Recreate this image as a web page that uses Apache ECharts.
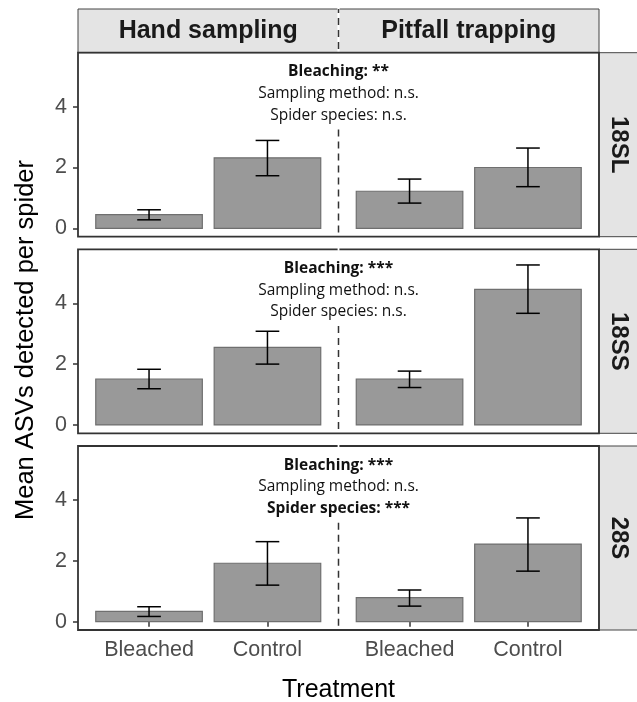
<!DOCTYPE html>
<html><head><meta charset="utf-8">
<script src="https://cdn.jsdelivr.net/npm/echarts@6/dist/echarts.min.js"></script>
<style>html,body{margin:0;padding:0;background:#fff}#c{width:637px;height:702px}</style>
</head><body><div id="c"></div>
<script>
// ---- data ----
const treatments = ['Bleached', 'Control'];
const methods = ['Hand sampling', 'Pitfall trapping'];
const markers = ['18SL', '18SS', '28S'];
const yTicks = [0, 2, 4];
// order: Hand-Bleached, Hand-Control, Pitfall-Bleached, Pitfall-Control
const mean18SL  = [0.45, 2.32, 1.22, 2.00];
const lower18SL = [0.28, 1.73, 0.83, 1.37];
const upper18SL = [0.61, 2.89, 1.62, 2.64];
const mean18SS  = [1.51, 2.55, 1.51, 4.46];
const lower18SS = [1.19, 2.00, 1.23, 3.67];
const upper18SS = [1.83, 3.08, 1.77, 5.26];
const mean28S   = [0.34, 1.92, 0.79, 2.55];
const lower28S  = [0.17, 1.20, 0.51, 1.66];
const upper28S  = [0.49, 2.63, 1.04, 3.41];
const annot18SL = [['Bleaching: **', true], ['Sampling method: n.s.', false], ['Spider species: n.s.', false]];
const annot18SS = [['Bleaching: ***', true], ['Sampling method: n.s.', false], ['Spider species: n.s.', false]];
const annot28S  = [['Bleaching: ***', true], ['Sampling method: n.s.', false], ['Spider species: ***', true]];

const rows = [
  {mean: mean18SL, lo: lower18SL, hi: upper18SL, ann: annot18SL},
  {mean: mean18SS, lo: lower18SS, hi: upper18SS, ann: annot18SS},
  {mean: mean28S,  lo: lower28S,  hi: upper28S,  ann: annot28S}
];

// ---- layout ----
const FONT = '"Liberation Sans", Arial, sans-serif';
const ANN_FONT = '"Open Sans", "Noto Sans", sans-serif';
const panelTop = [52.7, 249.3, 446];
const panelH = 184;
const colLeft = [78, 338.5];
const colW = 260.5;
const YMIN = -0.275, YMAX = 5.775;
const MID = 338.5;

const chart = echarts.init(document.getElementById('c'), null, {renderer: 'canvas'});
const grid = [], xAxis = [], yAxis = [], series = [];

rows.forEach((row, r) => {
  [0, 1].forEach(c => {
    const idx = r * 2 + c;
    grid.push({left: colLeft[c], top: panelTop[r], width: colW, height: panelH});
    xAxis.push({
      gridIndex: idx, type: 'value', min: 0.4, max: 2.6,
      axisLine: {show: false}, splitLine: {show: false},
      axisTick: {show: r === 2, customValues: [1, 2], length: 5, lineStyle: {color: '#333', width: 1.5}},
      axisLabel: {show: r === 2, customValues: [1, 2], formatter: v => treatments[Math.round(v) - 1],
        margin: 9, fontSize: 21.5, color: '#4d4d4d', fontFamily: FONT}
    });
    yAxis.push({
      gridIndex: idx, type: 'value', min: YMIN, max: YMAX,
      axisLine: {show: false}, splitLine: {show: false},
      axisTick: {show: c === 0, customValues: yTicks, length: 5, lineStyle: {color: '#333', width: 1.5}},
      axisLabel: {show: c === 0, customValues: yTicks, margin: 11, fontSize: 21.5, color: '#4d4d4d', fontFamily: FONT}
    });
    const data = [0, 1].map(k => [k + 1, row.mean[c * 2 + k], row.lo[c * 2 + k], row.hi[c * 2 + k]]);
    series.push({
      type: 'custom', xAxisIndex: idx, yAxisIndex: idx, data: data, z: 3,
      renderItem: (params, api) => {
        const x = api.value(0), m = api.value(1), lo = api.value(2), hi = api.value(3);
        const p0 = api.coord([x - 0.45, 0]);
        const p1 = api.coord([x + 0.45, m]);
        const eLo = api.coord([x, lo]), eHi = api.coord([x, hi]);
        const hw = api.size([0.1, 0])[0];
        const ls = {stroke: '#000', lineWidth: 1.5};
        return {type: 'group', children: [
          {type: 'rect', shape: {x: p0[0], y: p1[1], width: p1[0] - p0[0], height: p0[1] - p1[1]},
            style: {fill: '#999999', stroke: '#6f6f6f', lineWidth: 1.2}},
          {type: 'line', shape: {x1: eLo[0], y1: eLo[1], x2: eHi[0], y2: eHi[1]}, style: ls},
          {type: 'line', shape: {x1: eLo[0] - hw, y1: eLo[1], x2: eLo[0] + hw, y2: eLo[1]}, style: ls},
          {type: 'line', shape: {x1: eHi[0] - hw, y1: eHi[1], x2: eHi[0] + hw, y2: eHi[1]}, style: ls}
        ]};
      }
    });
  });
  // dashed separator + annotation on left grid of the row, at its right edge
  const li = r * 2;
  series.push({
    type: 'custom', xAxisIndex: li, yAxisIndex: li, data: [[2.6, 5.5]], z: 5, clip: false,
    renderItem: (params, api) => {
      const top = api.coord([2.6, 3.25]);
      const bot = api.coord([2.6, YMIN]);
      const anchor = api.coord([api.value(0), api.value(1)]);
      const text = row.ann.map(a => (a[1] ? '{b|' : '{n|') + a[0] + '}').join('\n');
      return {type: 'group', children: [
        {type: 'line', shape: {x1: top[0], y1: top[1], x2: bot[0], y2: bot[1]},
          style: {stroke: '#333', lineWidth: 1.5, lineDash: [7, 5]}},
        {type: 'text', x: anchor[0], y: anchor[1], style: {
          text: text, align: 'center', verticalAlign: 'top',
          rich: {
            b: {fontFamily: ANN_FONT, fontSize: 15.5, fontWeight: 'bold', fill: '#111', lineHeight: 21.7, align: 'center'},
            n: {fontFamily: ANN_FONT, fontSize: 15.5, fill: '#111', lineHeight: 21.7, align: 'center'}
          }
        }}
      ]};
    }
  });
});

// ---- graphic: strips, borders, titles ----
const graphic = [];
graphic.push({type: 'rect', shape: {x: 78, y: 9, width: 521, height: 43.7}, style: {fill: '#e4e4e4', stroke: '#444', lineWidth: 1}, z: 1});
graphic.push({type: 'line', shape: {x1: MID, y1: 7, x2: MID, y2: 52}, style: {stroke: '#fff', lineWidth: 2.2}, z: 2});
graphic.push({type: 'line', shape: {x1: MID, y1: 9, x2: MID, y2: 52}, style: {stroke: '#333', lineWidth: 1.5, lineDash: [7, 5], lineDashOffset: 3}, z: 3});
methods.forEach((m, c) => {
  graphic.push({type: 'text', x: colLeft[c] + colW / 2, y: 31.5, style: {text: m, font: 'bold 25px ' + FONT, fill: '#1a1a1a', align: 'center', verticalAlign: 'middle'}, z: 4});
});
markers.forEach((mk, r) => {
  graphic.push({type: 'rect', shape: {x: 599, y: panelTop[r], width: 45, height: panelH}, style: {fill: '#e4e4e4', stroke: '#444', lineWidth: 1}, z: 1});
  graphic.push({type: 'text', x: 618.5, y: panelTop[r] + panelH / 2, rotation: -Math.PI / 2,
    style: {text: mk, font: 'bold 24px ' + FONT, fill: '#1a1a1a', align: 'center', verticalAlign: 'middle'}, z: 2});
  graphic.push({type: 'rect', shape: {x: 78, y: panelTop[r], width: 521, height: panelH}, style: {fill: 'none', stroke: '#333', lineWidth: 1.8}, z: 10});
  if (r > 0) {
    graphic.push({type: 'line', shape: {x1: MID, y1: panelTop[r] - 1.5, x2: MID, y2: panelTop[r] + 1.5}, style: {stroke: '#fff', lineWidth: 1.8}, z: 11});
  }
});
graphic.push({type: 'text', x: 25.5, y: 340, rotation: Math.PI / 2,
  style: {text: 'Mean ASVs detected per spider', font: '25.5px ' + FONT, fill: '#000', align: 'center', verticalAlign: 'middle'}, z: 2});
graphic.push({type: 'text', x: 338.5, y: 690, style: {text: 'Treatment', font: '25px ' + FONT, fill: '#000', align: 'center', verticalAlign: 'middle'}, z: 2});

chart.setOption({
  animation: false,
  backgroundColor: '#fff',
  grid, xAxis, yAxis, series, graphic
});
</script></body></html>
